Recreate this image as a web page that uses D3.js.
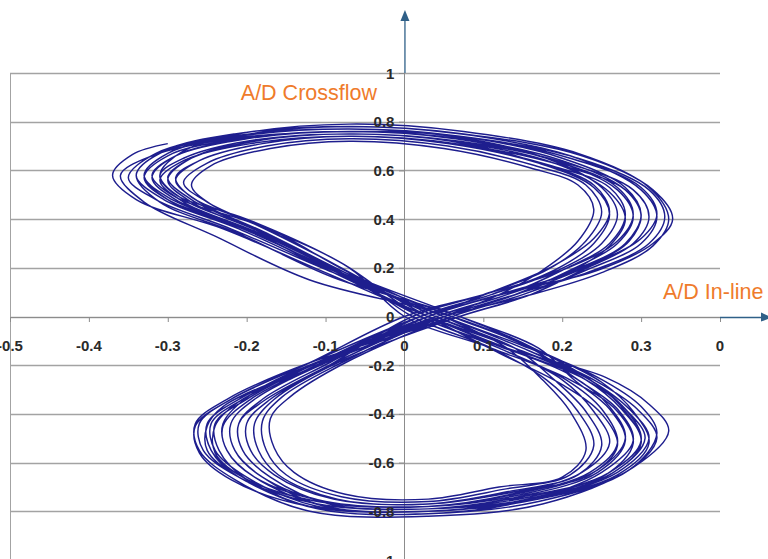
<!DOCTYPE html>
<html>
<head>
<meta charset="utf-8">
<script src="https://cdn.jsdelivr.net/npm/d3@7"></script>
<style>
  body { margin: 0; background: #fff; }
  svg { display: block; }
  .tick-label { font-family: "Liberation Sans", Arial, sans-serif; font-size: 15px; font-weight: bold; fill: #2a2a2a; }
  .axis-title { font-family: "Liberation Sans", Arial, sans-serif; font-size: 21.5px; fill: #ef7b2b; }
</style>
</head>
<body>
<svg width="768" height="559"></svg>
<script>
var svg = d3.select("svg"),
    width = +svg.attr("width"),
    height = +svg.attr("height");

// tick values and the labels as they show in the picture
var xTicks = [-0.5, -0.4, -0.3, -0.2, -0.1, 0, 0.1, 0.2, 0.3, 0.4];
var xTickLabels = ["-0.5", "-0.4", "-0.3", "-0.2", "-0.1", "0", "0.1", "0.2", "0.3", "0"];
var yTicks = [-1, -0.8, -0.6, -0.4, -0.2, 0, 0.2, 0.4, 0.6, 0.8, 1];
var yTickLabels = ["-1", "-0.8", "-0.6", "-0.4", "-0.2", "0", "0.2", "0.4", "0.6", "0.8", "1"];

// start of the trace (upper-left end, then first lower loop)
var startSegment = [
  [-0.30, 0.71], [-0.345, 0.665], [-0.37, 0.58], [-0.34, 0.48], [-0.23, 0.36], [-0.10, 0.18],
  [0.03, 0], [0.14, -0.13], [0.235, -0.26], [0.28, -0.38], [0.305, -0.50], [0.265, -0.64], [0.16, -0.75],
  [0.03, -0.80], [-0.11, -0.78], [-0.20, -0.66], [-0.24, -0.55], [-0.245, -0.44], [-0.205, -0.34], [-0.11, -0.19]
];

// one figure-eight cycle per entry (A/D in-line, A/D crossflow)
var cycles = [
  [[.03,0],[.12,.09],[.22,.19],[.28,.30],[.30,.41],[.28,.52],[.20,.64],[.07,.73],[-.07,.76],[-.21,.73],[-.30,.66],[-.33,.57],[-.30,.48],[-.20,.36],[-.09,.18],
   [.03,0],[.13,-.13],[.23,-.26],[.28,-.38],[.30,-.51],[.26,-.64],[.16,-.74],[.03,-.79],[-.11,-.77],[-.21,-.66],[-.245,-.55],[-.25,-.44],[-.21,-.34],[-.11,-.19]],
  [[.05,0],[.14,.09],[.24,.19],[.31,.30],[.33,.41],[.31,.52],[.22,.65],[.07,.74],[-.07,.77],[-.22,.74],[-.315,.67],[-.35,.57],[-.315,.48],[-.22,.36],[-.09,.18],
   [.05,0],[.15,-.13],[.24,-.26],[.295,-.38],[.32,-.50],[.28,-.64],[.17,-.75],[.03,-.80],[-.12,-.78],[-.21,-.66],[-.255,-.55],[-.26,-.44],[-.22,-.34],[-.12,-.19]],
  [[.02,0],[.11,.09],[.19,.19],[.24,.30],[.26,.42],[.24,.53],[.17,.63],[.06,.72],[-.07,.75],[-.19,.72],[-.27,.65],[-.30,.57],[-.27,.48],[-.19,.36],[-.08,.18],
   [.02,0],[.12,-.13],[.205,-.26],[.25,-.38],[.27,-.52],[.235,-.64],[.14,-.73],[.03,-.78],[-.10,-.76],[-.18,-.66],[-.215,-.55],[-.22,-.44],[-.19,-.34],[-.10,-.19]],
  [[.06,0],[.15,.09],[.23,.19],[.30,.30],[.32,.41],[.30,.52],[.21,.66],[.07,.75],[-.07,.78],[-.195,.75],[-.28,.68],[-.31,.58],[-.28,.48],[-.19,.36],[-.08,.18],
   [.06,0],[.16,-.13],[.22,-.26],[.27,-.38],[.29,-.51],[.25,-.64],[.15,-.76],[.03,-.81],[-.11,-.79],[-.20,-.67],[-.235,-.55],[-.24,-.44],[-.20,-.34],[-.11,-.19]],
  [[.04,0],[.13,.09],[.20,.19],[.26,.30],[.28,.42],[.26,.53],[.185,.62],[.06,.71],[-.07,.74],[-.18,.71],[-.26,.64],[-.29,.56],[-.26,.47],[-.18,.35],[-.075,.18],
   [.04,0],[.14,-.13],[.19,-.26],[.23,-.39],[.25,-.53],[.22,-.65],[.13,-.72],[.03,-.77],[-.09,-.75],[-.165,-.65],[-.195,-.55],[-.20,-.44],[-.17,-.34],[-.09,-.19]],
  [[.01,0],[.10,.09],[.18,.19],[.23,.31],[.25,.43],[.23,.54],[.165,.62],[.055,.70],[-.07,.73],[-.175,.70],[-.25,.63],[-.28,.55],[-.25,.47],[-.17,.35],[-.07,.18],
   [.01,0],[.11,-.13],[.18,-.26],[.22,-.39],[.24,-.53],[.21,-.65],[.125,-.71],[.03,-.76],[-.08,-.74],[-.15,-.65],[-.175,-.55],[-.18,-.43],[-.155,-.33],[-.08,-.19]],
  [[.05,0],[.14,.09],[.21,.19],[.27,.30],[.29,.41],[.27,.52],[.19,.64],[.065,.73],[-.07,.76],[-.20,.73],[-.29,.66],[-.32,.57],[-.29,.48],[-.20,.36],[-.085,.18],
   [.05,0],[.15,-.13],[.235,-.26],[.285,-.38],[.31,-.50],[.27,-.64],[.16,-.75],[.03,-.80],[-.10,-.78],[-.19,-.66],[-.225,-.55],[-.23,-.45],[-.195,-.34],[-.105,-.19]],
  [[.03,0],[.12,.09],[.245,.19],[.315,.30],[.34,.40],[.315,.52],[.225,.66],[.075,.75],[-.07,.78],[-.215,.75],[-.305,.68],[-.34,.58],[-.305,.48],[-.21,.36],[-.09,.18],
   [.03,0],[.13,-.13],[.255,-.25],[.31,-.36],[.335,-.47],[.29,-.62],[.175,-.77],[.03,-.82],[-.12,-.80],[-.215,-.67],[-.26,-.55],[-.265,-.44],[-.225,-.34],[-.12,-.19]],
  [[.07,0],[.16,.09],[.225,.19],[.29,.30],[.31,.41],[.29,.52],[.205,.63],[.07,.72],[-.07,.75],[-.19,.72],[-.27,.65],[-.30,.56],[-.27,.47],[-.185,.35],[-.075,.18],
   [.07,0],[.17,-.13],[.215,-.26],[.26,-.38],[.28,-.51],[.245,-.64],[.145,-.74],[.03,-.79],[-.095,-.77],[-.17,-.66],[-.205,-.55],[-.21,-.44],[-.18,-.34],[-.095,-.19]],
  [[.02,0],[.11,.09],[.195,.19],[.25,.30],[.27,.42],[.25,.53],[.18,.65],[.06,.74],[-.07,.77],[-.21,.74],[-.30,.67],[-.33,.58],[-.30,.48],[-.205,.36],[-.085,.18],
   [.02,0],[.12,-.13],[.20,-.26],[.24,-.39],[.26,-.52],[.225,-.64],[.135,-.73],[.03,-.78],[-.11,-.76],[-.205,-.66],[-.245,-.55],[-.25,-.44],[-.21,-.34],[-.11,-.19]],
  [[.04,0],[.13,.09],[.215,.19],[.28,.30],[.30,.42],[.28,.52],[.20,.62],[.065,.71],[-.07,.74],[-.195,.71],[-.28,.64],[-.31,.56],[-.28,.47],[-.19,.35],[-.08,.18],
   [.04,0],[.14,-.13],[.23,-.26],[.275,-.38],[.30,-.51],[.26,-.64],[.155,-.75],[.03,-.80],[-.10,-.78],[-.18,-.66],[-.215,-.55],[-.22,-.44],[-.19,-.34],[-.10,-.19]],
  [[.05,0],[.12,.09],[.175,.19],[.22,.31],[.24,.44],[.22,.54],[.16,.61],[.05,.69],[-.07,.72],[-.17,.69],[-.245,.62],[-.27,.54],[-.245,.46],[-.165,.35],[-.07,.18],
   [.05,0],[.13,-.13],[.175,-.26],[.21,-.39],[.23,-.55],[.20,-.66],[.12,-.70],[.03,-.75],[-.075,-.73],[-.14,-.64],[-.165,-.54],[-.17,-.42],[-.145,-.33],[-.075,-.19]],
  [[.06,0],[.15,.10],[.235,.21],[.30,.32],[.32,.42],[.30,.53],[.21,.65],[.07,.74],[-.07,.76],[-.22,.73],[-.32,.66],[-.36,.58],[-.33,.47],[-.24,.33],[-.12,.15],
   [.06,0],[.17,-.14],[.25,-.27],[.29,-.39],[.31,-.52],[.27,-.65],[.16,-.75],[.03,-.79],[-.11,-.77],[-.21,-.66],[-.25,-.55],[-.25,-.45],[-.23,-.37],[-.13,-.22]],
  [[.02,0],[.10,.07],[.20,.17],[.26,.29],[.28,.40],[.26,.51],[.19,.63],[.06,.72],[-.07,.75],[-.20,.72],[-.28,.65],[-.31,.58],[-.29,.50],[-.20,.40],[-.08,.22],
   [.02,0],[.11,-.11],[.21,-.24],[.26,-.37],[.28,-.50],[.245,-.63],[.15,-.73],[.03,-.78],[-.10,-.76],[-.19,-.66],[-.225,-.55],[-.23,-.44],[-.19,-.31],[-.09,-.16]],
  [[.05,0],[.15,.08],[.25,.18],[.315,.29],[.335,.40],[.31,.53],[.22,.67],[.075,.76],[-.07,.79],[-.21,.75],[-.30,.67],[-.33,.58],[-.30,.49],[-.21,.37],[-.09,.19],
   [.05,0],[.15,-.12],[.245,-.25],[.30,-.37],[.32,-.48],[.285,-.63],[.17,-.76],[.03,-.81],[-.11,-.79],[-.20,-.67],[-.24,-.56],[-.24,-.45],[-.21,-.35],[-.11,-.20]],
  [[.03,0],[.11,.10],[.19,.21],[.24,.32],[.26,.43],[.24,.54],[.17,.63],[.055,.71],[-.07,.74],[-.18,.71],[-.26,.64],[-.29,.57],[-.27,.49],[-.19,.38],[-.08,.20],
   [.03,0],[.12,-.15],[.20,-.28],[.25,-.40],[.27,-.53],[.235,-.65],[.14,-.72],[.03,-.77],[-.085,-.75],[-.16,-.65],[-.185,-.55],[-.19,-.44],[-.165,-.34],[-.085,-.19]],
  [[.07,0],[.16,.09],[.23,.20],[.285,.31],[.30,.42],[.28,.53],[.20,.65],[.07,.74],[-.07,.77],[-.215,.74],[-.31,.67],[-.34,.58],[-.31,.47],[-.21,.34],[-.09,.16],
   [.07,0],[.17,-.14],[.24,-.27],[.28,-.39],[.30,-.52],[.26,-.65],[.16,-.75],[.03,-.80],[-.12,-.78],[-.22,-.67],[-.26,-.56],[-.265,-.45],[-.22,-.34],[-.12,-.19]],
  [[.00,0],[.10,.09],[.20,.19],[.27,.31],[.29,.42],[.27,.53],[.19,.64],[.065,.73],[-.07,.76],[-.20,.73],[-.29,.66],[-.32,.58],[-.29,.49],[-.19,.38],[-.07,.20],
   [.00,0],[.11,-.13],[.21,-.26],[.27,-.39],[.29,-.52],[.255,-.65],[.15,-.74],[.03,-.79],[-.095,-.77],[-.17,-.66],[-.205,-.55],[-.21,-.44],[-.18,-.35],[-.095,-.20]]
];

var x = d3.scaleLinear().domain([-0.5, 0.4]).range([10, 720]);
var y = d3.scaleLinear().domain([-1, 1]).range([560, 73]);

var gridColor = "#a3a3a3",
    arrowColor = "#2f6088";

// horizontal gridlines
svg.append("g")
  .selectAll("line")
  .data(yTicks)
  .enter().append("line")
    .attr("x1", x(-0.5)).attr("x2", x(0.4))
    .attr("y1", function(d) { return Math.round(y(d)) + 0.5; })
    .attr("y2", function(d) { return Math.round(y(d)) + 0.5; })
    .attr("stroke", gridColor)
    .attr("stroke-width", 1.3);

// left border of plot area
svg.append("line")
    .attr("x1", x(-0.5) + 0.5).attr("x2", x(-0.5) + 0.5)
    .attr("y1", y(1)).attr("y2", height)
    .attr("stroke", gridColor);

// axes through the origin
var xAxis = d3.axisBottom(x).tickValues(xTicks).tickSize(5).tickFormat("");
var yAxis = d3.axisLeft(y).tickValues(yTicks).tickSize(5).tickFormat("");

var gx = svg.append("g")
    .attr("transform", "translate(0," + Math.round(y(0)) + ")")
    .call(xAxis);
var gy = svg.append("g")
    .attr("transform", "translate(" + Math.round(x(0)) + ",0)")
    .call(yAxis);
[gx, gy].forEach(function(g) {
  g.selectAll("path, line").attr("stroke", "#8c8c8c");
});
gy.select(".domain").attr("d", "M0.5," + y(1) + "V" + height);

// the trace
var line = d3.line()
    .x(function(d) { return x(d[0]); })
    .y(function(d) { return y(d[1]); })
    .curve(d3.curveCatmullRom.alpha(0.5));

var trace = startSegment.slice();
cycles.forEach(function(c) { trace = trace.concat(c); });
trace.push([0.04, 0]);

svg.append("path")
    .datum(trace)
    .attr("fill", "none")
    .attr("stroke", "#1e1e8e")
    .attr("stroke-width", 1.45)
    .attr("d", line);

// tick labels
svg.append("g")
  .selectAll("text")
  .data(xTicks)
  .enter().append("text")
    .attr("class", "tick-label")
    .attr("x", function(d) { return x(d); })
    .attr("y", y(0) + 34)
    .attr("text-anchor", "middle")
    .text(function(d, i) { return xTickLabels[i]; });

svg.append("g")
  .selectAll("text")
  .data(yTicks)
  .enter().append("text")
    .attr("class", "tick-label")
    .attr("x", x(0) - 10)
    .attr("y", function(d) { return y(d) + 5.5; })
    .attr("text-anchor", "end")
    .text(function(d, i) { return yTickLabels[i]; });

// arrows beyond the plot area
svg.append("line")
    .attr("x1", x(0) + 0.5).attr("x2", x(0) + 0.5)
    .attr("y1", y(1)).attr("y2", 20)
    .attr("stroke", arrowColor).attr("stroke-width", 1.3);
svg.append("path")
    .attr("d", "M" + (x(0) + 0.5) + ",10 L" + (x(0) - 4) + ",21 L" + (x(0) + 5) + ",21 Z")
    .attr("fill", arrowColor);

svg.append("line")
    .attr("x1", x(0.4)).attr("x2", 762)
    .attr("y1", Math.round(y(0)) + 0.5).attr("y2", Math.round(y(0)) + 0.5)
    .attr("stroke", arrowColor).attr("stroke-width", 1.3);
svg.append("path")
    .attr("d", "M772," + (Math.round(y(0)) + 0.5) + " L761," + (y(0) - 4) + " L761," + (y(0) + 5) + " Z")
    .attr("fill", arrowColor);

// axis titles
svg.append("text")
    .attr("class", "axis-title")
    .attr("x", 377).attr("y", 100)
    .attr("text-anchor", "end")
    .text("A/D Crossflow");

svg.append("text")
    .attr("class", "axis-title")
    .attr("x", 663).attr("y", 299)
    .text("A/D In-line");
</script>
</body>
</html>
